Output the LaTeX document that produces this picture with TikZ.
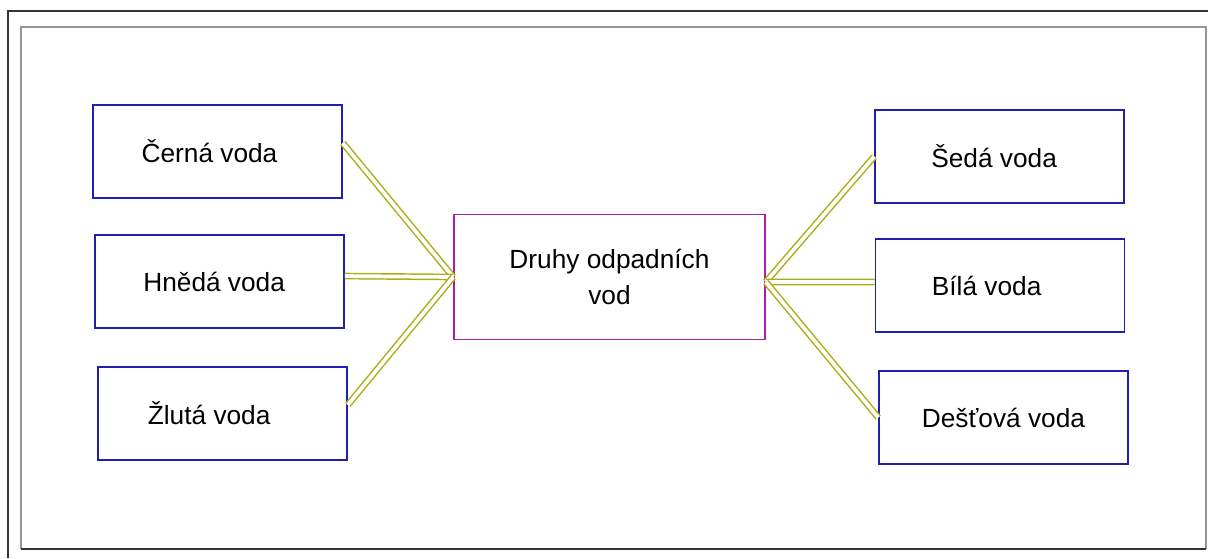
\documentclass[tikz,border=0pt]{standalone}
\usepackage{fontspec}
\setmainfont{Liberation Sans}
\usetikzlibrary{positioning}

\definecolor{boxblue}{RGB}{32,32,176}
\definecolor{boxpurple}{RGB}{170,30,170}
\definecolor{linkolive}{RGB}{172,172,20}
\definecolor{framegray}{RGB}{150,150,150}

\begin{document}
\begin{tikzpicture}[x=0.75pt,y=-0.75pt]
\tikzstyle{every node}+=[font=\fontsize{19.7pt}{27pt}\selectfont, text=black]
\tikzstyle{waterbox}=[draw=boxblue, line width=1.2pt, minimum width=186.75pt, minimum height=69.75pt, inner sep=0pt]
\tikzstyle{mainbox}=[draw=boxpurple, line width=1.2pt, minimum width=233.25pt, minimum height=93.75pt, inner sep=0pt, align=center]
\tikzstyle{link}=[draw=linkolive, line width=1.1pt, double=white, double distance=2.8pt]
\useasboundingbox (0,0) rectangle (1208,558);
% page frames
\draw [black!80, line width=1.1pt] (8,558) -- (8,11) -- (1208,11);
\draw [framegray, line width=1.1pt] (21,549) -- (21,27) -- (1206,27) -- (1206,549);
\draw [black!80, line width=1.1pt] (21,549) -- (1206,549);
% boxes
\node [mainbox] (druhy) at (609.5,277) {Druhy odpadních\\vod};
\node [waterbox] (cerna) at (217.5,151.5) {\hspace*{-12pt}Černá voda};
\node [waterbox] (hneda) at (219.5,281.5) {\hspace*{-8pt}Hnědá voda};
\node [waterbox] (zluta) at (222.5,413.5) {\hspace*{-20pt}Žlutá voda};
\node [waterbox] (seda) at (999.5,156.5) {\hspace*{-8pt}Šedá voda};
\node [waterbox] (bila) at (1000,285.5) {\hspace*{-20pt}Bílá voda};
\node [waterbox] (destova) at (1003.5,417.5) {Dešťová voda};
% links
\draw [link] ([yshift=6.4pt]cerna.east) -- (druhy.west);
\draw [link] ([yshift=4.1pt]hneda.east) -- (druhy.west);
\draw [link] ([yshift=6.4pt]zluta.east) -- (druhy.west);
\draw [link] ([yshift=-3.7pt]druhy.east) -- (seda.west);
\draw [link] ([yshift=-3.7pt]druhy.east) -- ([yshift=2.6pt]bila.west);
\draw [link] ([yshift=-3.7pt]druhy.east) -- (destova.west);
\end{tikzpicture}
\end{document}
